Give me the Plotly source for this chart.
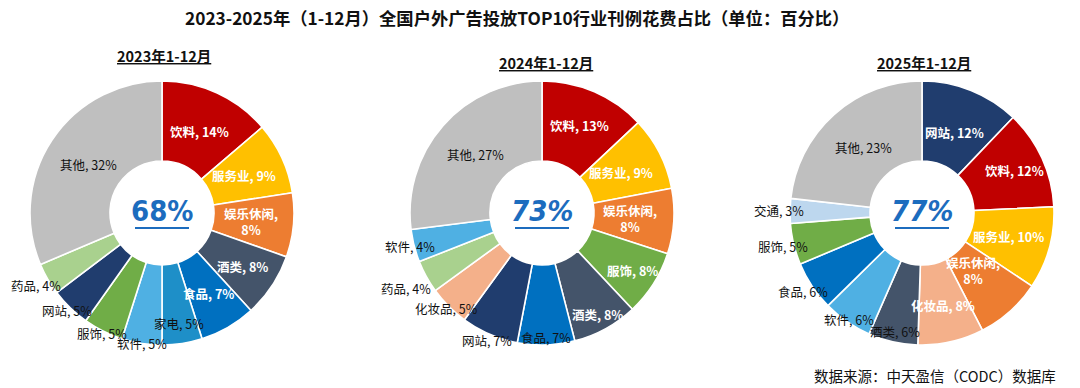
import math
import plotly.graph_objects as go

# page body adds an 8px margin; the figure is sized so the page fits the 1080x388 window
OFF = 8
W, H = 1072, 380

main_title = "2023-2025年（1-12月）全国户外广告投放TOP10行业刊例花费占比（单位：百分比）"
source_text = "数据来源：中天盈信（CODC）数据库"

years = ["2023年1-12月", "2024年1-12月", "2025年1-12月"]
top10_share = ["68%", "73%", "77%"]

cats_2023 = ["饮料", "服务业", "娱乐休闲", "酒类", "食品", "家电", "软件", "服饰", "网站", "药品", "其他"]
vals_2023 = [14, 9, 8, 8, 7, 5, 5, 5, 5, 4, 32]

cats_2024 = ["饮料", "服务业", "娱乐休闲", "服饰", "酒类", "食品", "网站", "化妆品", "药品", "软件", "其他"]
vals_2024 = [13, 9, 8, 8, 8, 7, 7, 5, 4, 4, 27]

cats_2025 = ["网站", "饮料", "服务业", "娱乐休闲", "化妆品", "酒类", "软件", "食品", "服饰", "交通", "其他"]
vals_2025 = [12, 12, 10, 8, 8, 6, 6, 6, 5, 3, 23]

# ---- styles (kept separate from data) ----
cat_colors = {
    "饮料": "#C00000", "服务业": "#FFC000", "娱乐休闲": "#ED7D31", "酒类": "#44546A",
    "食品": "#0070C0", "家电": "#1E8FC8", "软件": "#4FB0E3", "服饰": "#70AD47",
    "网站": "#203D6E", "药品": "#A9D18E", "其他": "#BFBFBF", "化妆品": "#F4B08A",
    "交通": "#BDD7EE",
}
# radial position of each label (fraction of outer radius) and whether it is white/bold
label_r_2023 = [0.68, 0.68, 0.68, 0.73, 0.70, 0.85, 1.00, 1.02, 1.03, 1.10, 0.67]
white_2023 = [1, 1, 1, 1, 1, 0, 0, 0, 0, 0, 0]
label_r_2024 = [0.72, 0.67, 0.67, 0.81, 0.88, 0.94, 1.05, 1.02, 1.18, 1.03, 0.67]
white_2024 = [1, 1, 1, 1, 1, 0, 0, 0, 0, 0, 0]
label_r_2025 = [0.66, 0.77, 0.68, 0.58, 0.72, 0.92, 0.98, 1.08, 1.08, 1.08, 0.67]
white_2025 = [1, 1, 1, 1, 1, 0, 0, 0, 0, 0, 0]

pie_centers = [(162, 213), (542, 213), (922, 213)]
R = 132
HOLE = 0.394
subtitle_pos = [(164, 55), (546, 62), (924, 62)]
center_italic = [False, True, True]

CJK = "Noto Sans CJK SC, Noto Sans, sans-serif"
NUM = "DejaVu Sans Condensed, Liberation Sans Narrow, Liberation Sans, sans-serif"
CENTER_BLUE = "#1C6CBE"

series = [
    (cats_2023, vals_2023, label_r_2023, white_2023),
    (cats_2024, vals_2024, label_r_2024, white_2024),
    (cats_2025, vals_2025, label_r_2025, white_2025),
]


def px_to_paper(x, y):
    return (x - OFF) / W, 1 - (y - OFF) / H


fig = go.Figure()
annotations = []
shapes = []

for i, (cats, vals, lr, wh) in enumerate(series):
    cx, cy = pie_centers[i]
    x0, y1 = px_to_paper(cx - R, cy - R)
    x1, y0 = px_to_paper(cx + R, cy + R)
    fig.add_trace(go.Pie(
        labels=cats, values=vals, sort=False, direction="clockwise", rotation=0,
        hole=HOLE, textinfo="none", hoverinfo="label+value", showlegend=False,
        marker=dict(colors=[cat_colors[c] for c in cats], line=dict(color="white", width=1.6)),
        domain=dict(x=[x0, x1], y=[y0, y1]),
    ))
    total = float(sum(vals))
    cum = 0.0
    for c, v, rf, w in zip(cats, vals, lr, wh):
        mid = (cum + v / 2.0) / total * 2 * math.pi
        cum += v
        px = cx + rf * R * math.sin(mid)
        py = cy - rf * R * math.cos(mid)
        sep = ",<br>" if len(c) >= 4 else ", "
        txt = f"{c}{sep}{v}%"
        if w:
            txt = f"<b>{txt}</b>"
        ax, ay = px_to_paper(px, py)
        annotations.append(dict(
            x=ax, y=ay, xref="paper", yref="paper", text=txt, showarrow=False,
            xanchor="center", yanchor="middle", borderpad=0,
            font=dict(family=CJK, size=12.5, color="white" if w else "#111111"),
        ))
    # center value
    ccx, ccy = px_to_paper(cx, cy - 2)
    ctext = f"<b>{top10_share[i]}</b>"
    if center_italic[i]:
        ctext = f"<i>{ctext}</i>"
    annotations.append(dict(
        x=ccx, y=ccy, xref="paper", yref="paper", text=ctext, showarrow=False,
        xanchor="center", yanchor="middle",
        font=dict(family=NUM, size=29, color=CENTER_BLUE),
    ))
    lx0, ly = px_to_paper(cx - 27, cy + 15)
    lx1, _ = px_to_paper(cx + 27, cy + 15)
    shapes.append(dict(type="line", xref="paper", yref="paper", x0=lx0, x1=lx1, y0=ly, y1=ly,
                       line=dict(color=CENTER_BLUE, width=2)))
    # subtitle
    sx, sy = px_to_paper(*subtitle_pos[i])
    annotations.append(dict(
        x=sx, y=sy, xref="paper", yref="paper", text=f"<b>{years[i]}</b>", showarrow=False,
        xanchor="center", yanchor="middle",
        font=dict(family=CJK, size=14.5, color="#111111", lineposition="under"),
    ))

tx, ty = px_to_paper(517, 17.5)
annotations.append(dict(
    x=tx, y=ty, xref="paper", yref="paper", text=f"<b>{main_title}</b>", showarrow=False,
    xanchor="center", yanchor="middle", borderpad=0,
    font=dict(family=CJK, size=17.3, color="#111111"),
))
sx, sy = px_to_paper(1058, 375)
annotations.append(dict(
    x=sx, y=sy, xref="paper", yref="paper", text=source_text, showarrow=False,
    xanchor="right", yanchor="middle", font=dict(family=CJK, size=14.5, color="#111111"),
))

fig.update_layout(
    width=W, height=H, margin=dict(l=0, r=0, t=0, b=0),
    paper_bgcolor="white", plot_bgcolor="white",
    annotations=annotations, shapes=shapes,
)

fig.write_html("out.html", config={"displayModeBar": False})
